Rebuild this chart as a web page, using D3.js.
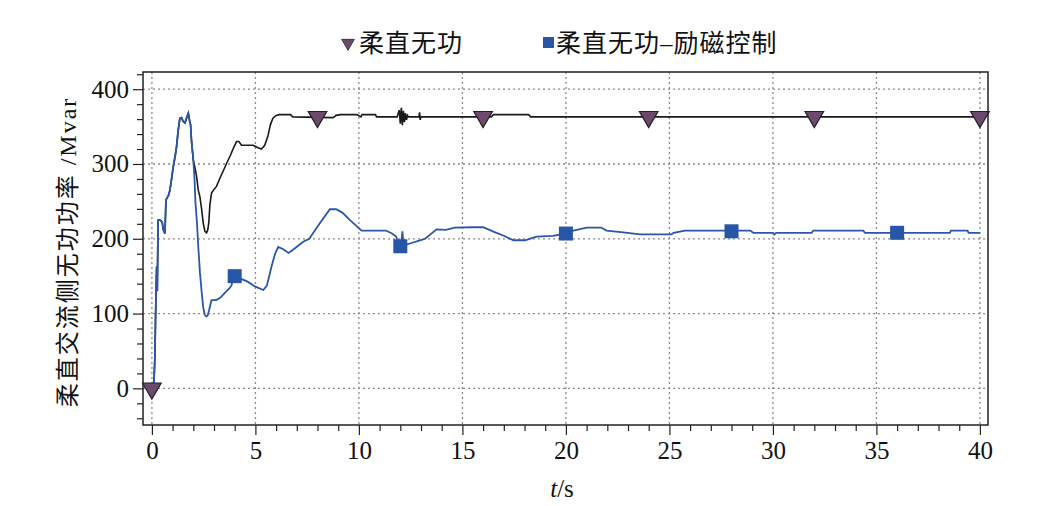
<!DOCTYPE html>
<html><head><meta charset="utf-8">
<script src="https://cdn.jsdelivr.net/npm/d3@7"></script>
<style>
body{margin:0;background:#fff}
svg text{font-family:"Liberation Serif","Times New Roman",Times,"Noto Sans CJK SC",serif;fill:#111}
</style>
</head><body>
<svg id="c" width="1040" height="506"></svg>
<script>
const seriesNames = ["柔直无功", "柔直无功–励磁控制"];
const xTicks = [0,5,10,15,20,25,30,35,40];
const yTicks = [0,100,200,300,400];
const xLabel = "t/s";
const yLabel = "柔直交流侧无功功率 /Mvar";

// shared initial rise (t, value)
const common = [[0,0],[0.1,10],[0.14,38],[0.2,130],[0.23,163],[0.26,130],[0.3,225],[0.4,225],[0.5,222],[0.55,212],[0.63,207],[0.68,252],[0.8,258],[0.87,265],[0.95,280],[1.03,296],[1.12,310],[1.19,323],[1.27,345],[1.35,361],[1.43,362],[1.51,357],[1.6,355],[1.68,362],[1.76,368],[1.82,358],[1.87,352],[1.91,332],[2.0,305]];

const blackVals = [[2.08,295],[2.16,283],[2.24,265],[2.32,256],[2.4,240],[2.48,221],[2.56,210],[2.64,208],[2.7,212],[2.75,222],[2.8,245],[2.88,261],[3.0,266],[3.12,270],[3.3,282],[3.45,291],[3.61,301],[3.8,312],[3.95,322],[4.09,330],[4.2,330],[4.33,325],[4.6,325],[4.89,325],[5.1,322],[5.29,320],[5.45,325],[5.6,337],[5.72,352],[5.84,361],[6.0,365],[6.16,366],[6.7,366],[6.8,363],[8.76,362],[8.9,365],[9.1,366],[9.9,366],[10.1,363],[10.15,366],[10.8,366],[10.85,363],[11.5,363],[11.85,363],[11.9,368],[11.95,372],[12.0,354],[12.05,375],[12.1,352],[12.15,371],[12.2,356],[12.25,368],[12.3,359],[12.35,365],[12.4,363],[12.9,363],[12.93,369],[12.96,359],[13.0,363],[16.4,363],[16.5,366],[18.2,366],[18.3,363],[40,363]];

const blueVals = [[2.06,280],[2.1,250],[2.18,220],[2.25,185],[2.32,155],[2.4,130],[2.48,108],[2.56,98],[2.64,96],[2.7,98],[2.76,104],[2.88,118],[3.1,118],[3.3,121],[3.5,127],[3.75,134],[3.85,138],[3.93,150],[4.1,150],[4.25,147],[4.6,143],[5.0,136],[5.38,131.5],[5.55,137],[5.78,163],[5.95,180],[6.1,189],[6.35,186],[6.6,181],[6.85,186],[7.31,196],[7.6,200],[8.12,221],[8.6,239.5],[8.9,239.5],[9.2,235],[9.57,225],[10.13,211],[11.3,211],[11.6,207],[11.8,203],[11.95,190],[12.05,195],[12.1,210],[12.15,192],[12.27,192],[12.5,194],[12.95,198],[13.2,200],[13.75,212.6],[14.2,212],[14.64,215],[15.52,215.4],[16.0,215.4],[16.5,209.5],[17.0,204],[17.46,198],[18.03,198],[18.58,203],[19.38,204],[19.95,207],[20.36,211],[21.0,215],[21.7,215],[21.96,211],[22.77,208.6],[23.57,206],[25.1,206],[25.2,208],[25.75,211],[27.9,211],[28.9,211],[29.05,208],[30.0,208],[30.06,205.5],[30.15,208],[31.87,208],[31.95,211],[34.36,211],[34.45,208],[38.55,208],[38.6,211],[39.4,211],[39.45,208],[40,208]];

const blackMarkers = [[0,0],[8,363],[16,363],[24,363],[32,363],[40,363]];
const blueMarkers = [[4,150],[12,190],[20,207],[28,210],[36,208]];

const svg = d3.select("#c");
const L=143, R=988, T=72, B=425;
const x = d3.scaleLinear().domain([-0.43,40.39]).range([L,R]);
const y = d3.scaleLinear().domain([-49,423]).range([B,T]);

// grid
const g = svg.append("g");
g.selectAll(".gx").data(xTicks).join("line")
  .attr("x1",d=>x(d)).attr("x2",d=>x(d)).attr("y1",T).attr("y2",B)
  .attr("stroke","#8a8a8a").attr("stroke-width",1.3).attr("stroke-dasharray","2,3");
g.selectAll(".gy").data(yTicks).join("line")
  .attr("y1",d=>y(d)).attr("y2",d=>y(d)).attr("x1",L).attr("x2",R)
  .attr("stroke","#8a8a8a").attr("stroke-width",1.3).attr("stroke-dasharray","2,3");

// axes
const xMinor = d3.range(0,41,1).filter(v=>v%5!==0);
const yMinor = d3.range(-40,421,20).filter(v=>v%100!==0);
const xa = svg.append("g").attr("transform",`translate(0,${B})`);
xa.call(d3.axisBottom(x).tickValues(xMinor).tickSize(6).tickFormat(""));
xa.select(".domain").remove();
const xa2 = svg.append("g").attr("transform",`translate(0,${B})`);
xa2.call(d3.axisBottom(x).tickValues(xTicks).tickSize(10).tickPadding(6).tickFormat(d3.format("d")));
xa2.select(".domain").remove();
xa2.attr("font-family",null);
xa2.selectAll("text").attr("font-size",25);
const ya = svg.append("g").attr("transform",`translate(${L},0)`);
ya.call(d3.axisLeft(y).tickValues(yMinor).tickSize(6).tickFormat(""));
ya.select(".domain").remove();
const ya2 = svg.append("g").attr("transform",`translate(${L},0)`);
ya2.call(d3.axisLeft(y).tickValues(yTicks).tickSize(10).tickPadding(4).tickFormat(d3.format("d")));
ya2.select(".domain").remove();
ya2.attr("font-family",null);
ya2.selectAll("text").attr("font-size",25);
svg.selectAll(".tick line").attr("stroke","#222").attr("stroke-width",1.2);
svg.selectAll(".tick text").attr("fill","#111");

// lines
const line = d3.line().x(d=>x(d[0])).y(d=>y(d[1]));
svg.append("path").datum(common.concat(blackVals)).attr("d",line)
  .attr("fill","none").attr("stroke","#1a1a1a").attr("stroke-width",1.6);
svg.append("path").datum(common.concat(blueVals)).attr("d",line)
  .attr("fill","none").attr("stroke","#2b57a7").attr("stroke-width",1.8);

// markers
const tri = d3.symbol().type(d3.symbolTriangle).size(150);
svg.selectAll(".bm").data(blackMarkers).join("path")
  .attr("d",tri).attr("transform",d=>`translate(${x(d[0])},${y(d[1])}) rotate(180)`)
  .attr("fill","#6b4a6e").attr("stroke","#222").attr("stroke-width",1.2);
svg.selectAll(".sm").data(blueMarkers).join("rect")
  .attr("x",d=>x(d[0])-7).attr("y",d=>y(d[1])-7).attr("width",14).attr("height",14)
  .attr("fill","#2756a6");

// frame
svg.append("rect").attr("x",L).attr("y",T).attr("width",R-L).attr("height",B-T)
  .attr("fill","none").attr("stroke","#222").attr("stroke-width",1.5);

// legend
const lg = svg.append("g");
lg.append("path").attr("d",d3.symbol().type(d3.symbolTriangle).size(70))
  .attr("transform","translate(348,43) rotate(180)").attr("fill","#6b4a6e").attr("stroke","#222").attr("stroke-width",0.8);
lg.append("text").attr("x",359).attr("y",52).text(seriesNames[0]).attr("font-size",25).attr("letter-spacing",1);
lg.append("rect").attr("x",543).attr("y",37).attr("width",11).attr("height",11).attr("fill","#2756a6");
lg.append("text").attr("x",556).attr("y",52).text(seriesNames[1]).attr("font-size",25).attr("letter-spacing",1);

// axis titles
const xt = svg.append("text").attr("x",562).attr("y",497).attr("text-anchor","middle").attr("font-size",25);
xt.append("tspan").attr("font-style","italic").text(xLabel.split("/")[0]);
xt.append("tspan").text("/"+xLabel.split("/")[1]);
svg.append("text").attr("transform","translate(76,252) rotate(-90)").attr("text-anchor","middle")
  .attr("font-size",24).attr("letter-spacing",2).text(yLabel);
</script>
</body></html>
